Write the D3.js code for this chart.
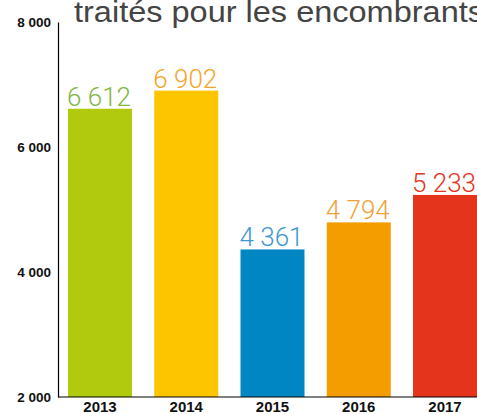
<!DOCTYPE html>
<html>
<head>
<meta charset="utf-8">
<script src="https://cdn.jsdelivr.net/npm/d3@7"></script>
<style>
  body { margin: 0; background: #fff; overflow: hidden; }
  svg { display: block; }
</style>
</head>
<body>
<svg></svg>
<script>
let width = 477, height = 414;

// data
let years = ["2013", "2014", "2015", "2016", "2017"];
let tonnes = [6612, 6902, 4361, 4794, 5233];
let barColors = ["#b1ca0d", "#fcc500", "#0086c3", "#f39d00", "#e5341c"];
let labelColors = ["#82b73f", "#f4a52a", "#3c98d3", "#f0a137", "#e5341c"];
let yTicks = [2000, 4000, 6000, 8000];

let svg = d3.select("svg")
    .attr("width", width)
    .attr("height", height);

let fmt = n => d3.format(",")(n).replace(/,/g, " ");

let y = d3.scaleLinear()
    .domain([2000, 8000])
    .range([397, 22]);

let x = d3.scaleBand()
    .domain(years)
    .range([68, 477])
    .paddingInner(0.258)
    .paddingOuter(0);

// title (cut off at top and right, as in the source)
svg.append("text")
    .attr("x", 74)
    .attr("y", 22)
    .attr("fill", "#444")
    .attr("textLength", 410)
    .attr("lengthAdjust", "spacingAndGlyphs")
    .style("font-family", "'Liberation Sans', Arial, sans-serif")
    .style("font-size", "29px")
    .text("traités pour les encombrants");

// bars
svg.append("g")
    .selectAll("rect")
    .data(tonnes)
    .enter()
    .append("rect")
    .attr("x", (d, i) => x(years[i]))
    .attr("y", d => y(d))
    .attr("width", x.bandwidth())
    .attr("height", d => y(2000) - y(d))
    .attr("fill", (d, i) => barColors[i]);

// value labels
svg.append("g")
    .selectAll("text")
    .data(tonnes)
    .enter()
    .append("text")
    .attr("x", (d, i) => x(years[i]) + x.bandwidth() / 2 - 1)
    .attr("y", d => y(d) - 3)
    .attr("text-anchor", "middle")
    .attr("fill", (d, i) => labelColors[i])
    .style("font-family", "Roboto, 'Liberation Sans', sans-serif")
    .style("font-weight", 300)
    .style("font-size", "26px")
    .text(d => fmt(d));

// y axis
let yAxis = svg.append("g")
    .attr("transform", "translate(58,0)")
    .call(d3.axisLeft(y).tickValues(yTicks).tickSize(0).tickPadding(7).tickFormat(fmt));
yAxis.select(".domain").attr("stroke", "#000").attr("stroke-width", 1.2);
yAxis.selectAll("text")
    .style("font-family", "'Liberation Sans', Arial, sans-serif")
    .style("font-weight", "bold")
    .style("font-size", "13.5px")
    .attr("fill", "#111");

// x axis
let xAxis = svg.append("g")
    .attr("transform", "translate(0,397)")
    .call(d3.axisBottom(x).tickSize(0).tickPadding(4));
xAxis.select(".domain").attr("d", "M58,0H477").attr("stroke", "#000").attr("stroke-width", 1.2);
xAxis.selectAll("text")
    .style("font-family", "'Liberation Sans', Arial, sans-serif")
    .style("font-weight", "bold")
    .style("font-size", "15px")
    .attr("fill", "#111");
</script>
</body>
</html>
